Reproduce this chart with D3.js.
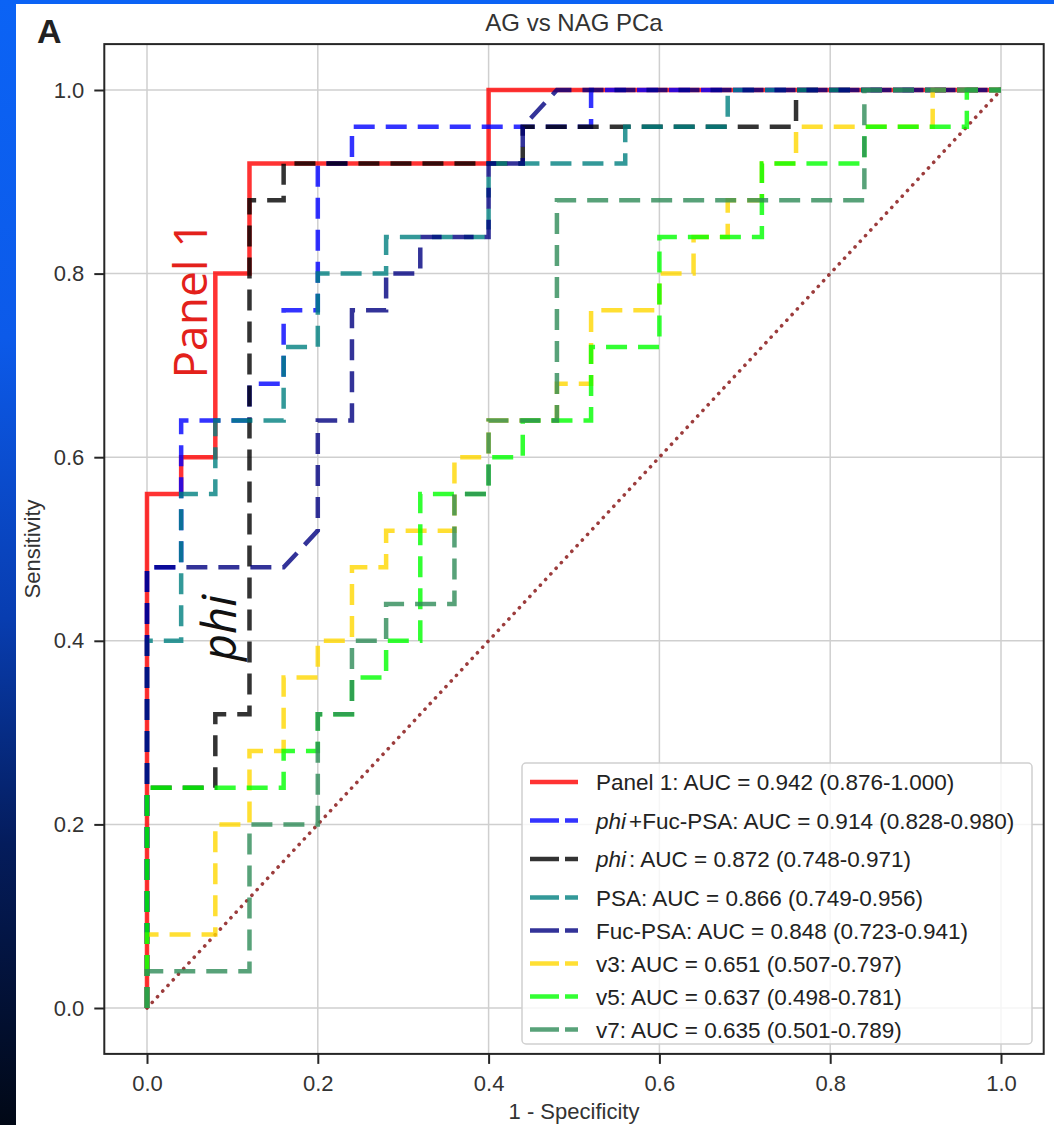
<!DOCTYPE html>
<html>
<head>
<meta charset="utf-8">
<script src="https://cdn.jsdelivr.net/npm/d3@7"></script>
<style>
html,body{margin:0;padding:0;background:#000;}
body{width:1054px;height:1125px;overflow:hidden;}
svg{display:block;}
</style>
</head>
<body>
<svg id="chart" width="1054" height="1125"></svg>
<script>
// ---------------- data ----------------
const chartTitle = "AG vs NAG PCa";
const panelLetter = "A";
const xLabel = "1 - Specificity";
const yLabel = "Sensitivity";
const xTicks = [0.0, 0.2, 0.4, 0.6, 0.8, 1.0];
const yTicks = [0.0, 0.2, 0.4, 0.6, 0.8, 1.0];

const seriesNames = ["Panel 1", "phi+Fuc-PSA", "phi", "PSA", "Fuc-PSA", "v3", "v5", "v7"];
const legendLabels = [
  "Panel 1: AUC = 0.942 (0.876-1.000)",
  "$phi$+Fuc-PSA: AUC = 0.914 (0.828-0.980)",
  "$phi$: AUC = 0.872 (0.748-0.971)",
  "PSA: AUC = 0.866 (0.749-0.956)",
  "Fuc-PSA: AUC = 0.848 (0.723-0.941)",
  "v3: AUC = 0.651 (0.507-0.797)",
  "v5: AUC = 0.637 (0.498-0.781)",
  "v7: AUC = 0.635 (0.501-0.789)"
];
const seriesColors = ["red", "blue", "black", "teal", "navy", "gold", "lime", "seagreen"];
const seriesSolid = [true, false, false, false, false, false, false, false];

// ROC points [1 - specificity, sensitivity]
const rocPanel1 = [[0,0],[0,0.56],[0.04,0.56],[0.04,0.6],[0.08,0.6],[0.08,0.8],[0.12,0.8],[0.12,0.92],[0.4,0.92],[0.4,1],[1,1]];
const rocPhiFuc = [[0,0],[0,0.48],[0.04,0.48],[0.04,0.64],[0.12,0.64],[0.12,0.68],[0.16,0.68],[0.16,0.76],[0.2,0.76],[0.2,0.92],[0.24,0.92],[0.24,0.96],[0.52,0.96],[0.52,1],[1,1]];
const rocPhi = [[0,0],[0,0.24],[0.08,0.24],[0.08,0.32],[0.12,0.32],[0.12,0.88],[0.16,0.88],[0.16,0.92],[0.44,0.92],[0.44,0.96],[0.76,0.96],[0.76,1],[1,1]];
const rocPSA = [[0,0],[0,0.4],[0.04,0.4],[0.04,0.56],[0.08,0.56],[0.08,0.64],[0.16,0.64],[0.16,0.72],[0.2,0.72],[0.2,0.8],[0.28,0.8],[0.28,0.84],[0.4,0.84],[0.4,0.92],[0.56,0.92],[0.56,0.96],[0.68,0.96],[0.68,1],[1,1]];
const rocFucPSA = [[0,0],[0,0.48],[0.16,0.48],[0.2,0.52],[0.2,0.64],[0.24,0.64],[0.24,0.76],[0.28,0.76],[0.28,0.8],[0.32,0.8],[0.32,0.84],[0.4,0.84],[0.4,0.92],[0.44,0.92],[0.44,0.96],[0.48,1],[1,1]];
const rocV3 = [[0,0],[0,0.08],[0.08,0.08],[0.08,0.2],[0.12,0.2],[0.12,0.28],[0.16,0.28],[0.16,0.36],[0.2,0.36],[0.2,0.4],[0.24,0.4],[0.24,0.48],[0.28,0.48],[0.28,0.52],[0.36,0.52],[0.36,0.6],[0.4,0.6],[0.4,0.64],[0.48,0.64],[0.48,0.68],[0.52,0.68],[0.52,0.76],[0.6,0.76],[0.6,0.8],[0.64,0.8],[0.64,0.84],[0.68,0.84],[0.68,0.88],[0.72,0.88],[0.72,0.92],[0.76,0.92],[0.76,0.96],[0.92,0.96],[0.92,1],[1,1]];
const rocV5 = [[0,0],[0,0.24],[0.16,0.24],[0.16,0.28],[0.2,0.28],[0.2,0.32],[0.24,0.32],[0.24,0.36],[0.28,0.36],[0.28,0.4],[0.32,0.4],[0.32,0.56],[0.4,0.56],[0.4,0.6],[0.44,0.6],[0.44,0.64],[0.52,0.64],[0.52,0.72],[0.6,0.72],[0.6,0.84],[0.72,0.84],[0.72,0.92],[0.84,0.92],[0.84,0.96],[0.96,0.96],[0.96,1],[1,1]];
const rocV7 = [[0,0],[0,0.04],[0.12,0.04],[0.12,0.2],[0.2,0.2],[0.2,0.32],[0.24,0.32],[0.24,0.4],[0.28,0.4],[0.28,0.44],[0.36,0.44],[0.36,0.56],[0.4,0.56],[0.4,0.64],[0.48,0.64],[0.48,0.88],[0.84,0.88],[0.84,1],[1,1]];
const chanceLine = [[0,0],[1,1]];

const annotationTexts = ["Panel 1", "phi"];

// ---------------- drawing ----------------
const rocData = [rocPanel1, rocPhiFuc, rocPhi, rocPSA, rocFucPSA, rocV3, rocV5, rocV7];
const svg = d3.select("#chart");
const W = 1054, H = 1125;

const defs = svg.append("defs");
const grad = defs.append("linearGradient").attr("id","bg").attr("x1",0).attr("y1",0).attr("x2",0).attr("y2",1);
[["0%","#0b63f5"],["30%","#0c5ae9"],["55%","#083db0"],["75%","#041c5c"],["100%","#010816"]]
  .forEach(([o,c]) => grad.append("stop").attr("offset",o).attr("stop-color",c));
svg.append("rect").attr("width",W).attr("height",H).attr("fill","url(#bg)");
svg.append("rect").attr("x",16).attr("y",4).attr("width",W-16).attr("height",H-4).attr("fill","#ffffff");

const x = d3.scaleLinear().domain([-0.05, 1.05]).range([104.3, 1043.7]);
const y = d3.scaleLinear().domain([-0.05, 1.05]).range([1053.9, 44.1]);

const font = "'Liberation Sans', Arial, sans-serif";

// grid
const grid = svg.append("g");
grid.selectAll("line.gx").data(xTicks).join("line")
  .attr("x1", d => x(d)).attr("x2", d => x(d))
  .attr("y1", y(1.05)).attr("y2", y(-0.05))
  .attr("stroke","#cfcfcf").attr("stroke-width",1.5);
grid.selectAll("line.gy").data(yTicks).join("line")
  .attr("y1", d => y(d)).attr("y2", d => y(d))
  .attr("x1", x(-0.05)).attr("x2", x(1.05))
  .attr("stroke","#cfcfcf").attr("stroke-width",1.5);

// chance diagonal
svg.append("path")
  .attr("d", d3.line().x(d => x(d[0])).y(d => y(d[1]))(chanceLine))
  .attr("fill","none").attr("stroke","#8b1a1a").attr("stroke-opacity",0.85)
  .attr("stroke-width",3.6).attr("stroke-linecap","round")
  .attr("stroke-dasharray","0.1,7.6");

// ROC curves
const line = d3.line().x(d => x(d[0])).y(d => y(d[1]));
rocData.forEach((pts, i) => {
  svg.append("path")
    .attr("d", line(pts))
    .attr("fill","none")
    .attr("stroke", seriesColors[i])
    .attr("stroke-opacity", 0.8)
    .attr("stroke-width", 4.5)
    .attr("stroke-linejoin","miter")
    .attr("stroke-dasharray", seriesSolid[i] ? null : "21,11");
});

// axes
const yAxis = d3.axisLeft(y).tickValues(yTicks).tickFormat(d3.format(".1f")).tickSize(10).tickPadding(10);
const xAxis = d3.axisBottom(x).tickValues(xTicks).tickFormat(d3.format(".1f")).tickSize(10).tickPadding(11);
const gy = svg.append("g").attr("transform",`translate(${x(-0.05)},0)`).call(yAxis);
const gx = svg.append("g").attr("transform",`translate(0,${y(-0.05)})`).call(xAxis);
[gx, gy].forEach(g => {
  g.select(".domain").remove();
  g.selectAll(".tick line").attr("stroke","#262626").attr("stroke-width",2);
  g.selectAll(".tick text").attr("fill","#333").style("font-family",font).style("font-size","22px");
});

// spines
svg.append("rect")
  .attr("x", x(-0.05)).attr("y", y(1.05))
  .attr("width", x(1.05) - x(-0.05)).attr("height", y(-0.05) - y(1.05))
  .attr("fill","none").attr("stroke","#262626").attr("stroke-width",2);

// titles
svg.append("text").attr("x", (x(-0.05)+x(1.05))/2).attr("y", 31)
  .attr("text-anchor","middle").style("font-family",font).style("font-size","24px").attr("fill","#333")
  .text(chartTitle);
svg.append("text").attr("x", 37).attr("y", 43)
  .style("font-family",font).style("font-size","34px").style("font-weight","bold").attr("fill","#222")
  .text(panelLetter);
svg.append("text").attr("x", (x(-0.05)+x(1.05))/2).attr("y", 1119)
  .attr("text-anchor","middle").style("font-family",font).style("font-size","22px").attr("fill","#333")
  .text(xLabel);
svg.append("text").attr("transform", `translate(40,${(y(-0.05)+y(1.05))/2}) rotate(-90)`)
  .attr("text-anchor","middle").style("font-family",font).style("font-size","22px").attr("fill","#333")
  .text(yLabel);

// annotations
svg.append("text").attr("transform","translate(207,300) rotate(-90)")
  .attr("text-anchor","middle").style("font-family","'Open Sans', sans-serif").style("font-size","46px")
  .attr("fill","#e3211b").text(annotationTexts[0]);
svg.append("text").attr("transform","translate(236,628) rotate(-90)")
  .attr("text-anchor","middle").style("font-family","'Open Sans', sans-serif").style("font-size","47px")
  .style("font-style","italic").attr("fill","#111").text(annotationTexts[1]);

// legend
const lg = svg.append("g");
const isMath = s => s.includes("$");
const rowY = [];
let cy = 782;
legendLabels.forEach((lab, i) => {
  if (i > 0) {
    const m = isMath(lab) || isMath(legendLabels[i-1]);
    cy += m ? 38.5 : 33;
  }
  rowY.push(cy);
});
lg.append("rect").attr("x",522).attr("y",763).attr("width",510).attr("height",281)
  .attr("rx",4).attr("fill","#fff").attr("fill-opacity",0.8)
  .attr("stroke","#d0d0d0").attr("stroke-width",1.5);
legendLabels.forEach((lab, i) => {
  const yy = rowY[i];
  lg.append("line").attr("x1",530).attr("x2",578).attr("y1",yy).attr("y2",yy)
    .attr("stroke",seriesColors[i]).attr("stroke-opacity",0.8).attr("stroke-width",4.5)
    .attr("stroke-dasharray", seriesSolid[i] ? null : "29,6");
  const t = lg.append("text").attr("x",596).attr("y",yy+8)
    .style("font-family",font).style("font-size","22.5px").attr("fill","#222");
  const parts = lab.split(/(\$[^$]+\$)/).filter(p => p.length);
  let prevMath = false;
  parts.forEach(p => {
    if (p.startsWith("$")) {
      t.append("tspan").style("font-style","italic").text(p.slice(1,-1));
      prevMath = true;
    } else {
      const ts = t.append("tspan").text(p);
      if (prevMath) ts.attr("dx", 3);
      prevMath = false;
    }
  });
});
</script>
</body>
</html>
